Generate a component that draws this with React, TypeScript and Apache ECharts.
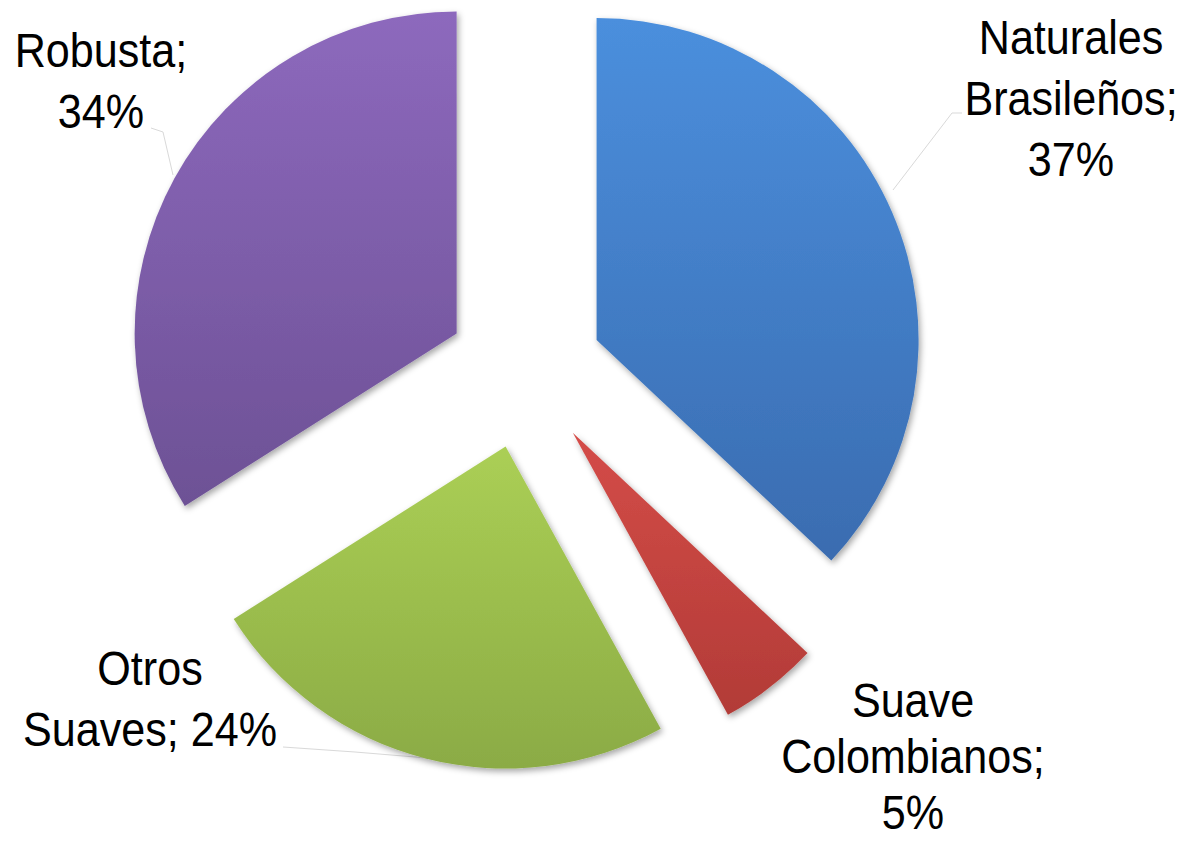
import React, { useEffect, useRef } from "react";
import * as echarts from "echarts";

const categories = ["Naturales Brasileños", "Suave Colombianos", "Otros Suaves", "Robusta"];
const shares = [37, 5, 24, 34];
const labelTexts = [
  "Naturales\nBrasileños;\n37%",
  "Suave\nColombianos;\n5%",
  "Otros\nSuaves; 24%",
  "Robusta;\n34%",
];

const topColors = ["#4b8fdd", "#d44c48", "#abcf55", "#8d69bd"];
const bottomColors = ["#3a6cb0", "#b23b37", "#8bab45", "#6d5195"];
const labelAnchors = [
  [1071, 98],
  [913, 756],
  [150, 699],
  [101, 81],
];
const lineGaps = [61, 56, 61, 61];
const leaderLines: (number[][] | null)[] = [
  [[893, 190], [952, 113], [962, 113]],
  null,
  [[427, 758], [355, 752], [283, 747]],
  [[173, 175], [163, 132], [151, 128]],
];

export default function App() {
  const ref = useRef<HTMLDivElement>(null);
  useEffect(() => {
    if (!ref.current) return;
    const chart = echarts.init(ref.current, undefined, { renderer: "svg" });
    const data = categories.map((name, i) => {
      const style = {
        color: new echarts.graphic.LinearGradient(0, 0, 0, 1, [
          { offset: 0, color: topColors[i] },
          { offset: 1, color: bottomColors[i] },
        ]),
        shadowBlur: 6,
        shadowColor: "rgba(0,0,0,0.35)",
        shadowOffsetX: 2,
        shadowOffsetY: 3,
      };
      return {
        name,
        value: shares[i],
        selected: true,
        itemStyle: style,
        select: { itemStyle: style },
      };
    });
    const graphics: any[] = [];
    leaderLines.forEach((pts) => {
      if (!pts) return;
      graphics.push({
        type: "polyline",
        z: 1,
        shape: { points: pts },
        style: { stroke: "#d9d9d9", lineWidth: 1, fill: null },
        silent: true,
      });
    });
    labelTexts.forEach((t, i) => {
      const lines = t.split("\n");
      const n = lines.length;
      lines.forEach((line, k) => {
        graphics.push({
          type: "text",
          x: labelAnchors[i][0],
          y: labelAnchors[i][1] + (k - (n - 1) / 2) * lineGaps[i],
          scaleX: 0.88,
          z: 10,
          silent: true,
          style: {
            text: line,
            fontFamily: "'Liberation Sans', Arial, sans-serif",
            fontSize: 49,
            lineHeight: 49,
            fill: "#000000",
            textAlign: "center",
            textVerticalAlign: "middle",
          },
        });
      });
    });
    chart.setOption({
      animation: false,
      backgroundColor: "#ffffff",
      series: [
        {
          type: "pie",
          center: [525, 371],
          radius: 322,
          startAngle: 90,
          clockwise: true,
          selectedMode: "multiple",
          selectedOffset: 78,
          emphasis: { disabled: true },
          label: { show: false },
          labelLine: { show: false },
          data,
        },
      ],
      graphic: graphics,
    });
    return () => chart.dispose();
  }, []);
  return (
    <div
      ref={ref}
      style={{ position: "fixed", left: 0, top: 0, width: 1192, height: 844 }}
    />
  );
}
